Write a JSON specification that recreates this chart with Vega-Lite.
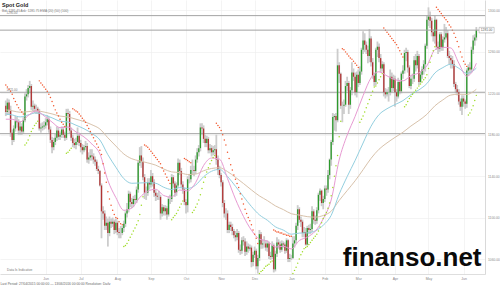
{
  "$schema": "https://vega.github.io/schema/vega-lite/v6.json",
  "width": 485,
  "height": 274,
  "autosize": "none",
  "padding": {"left": 0, "top": 0, "right": 15, "bottom": 11},
  "background": "white",
  "config": {"view": {"stroke": null}, "font": "Liberation Sans"},
  "title": {
    "text": "Spot Gold",
    "subtitle": "Bid: 1281.45    Ask: 1281.75          EMA (20) (50) (100)",
    "anchor": "start",
    "frame": "group",
    "offset": -12,
    "dx": 2,
    "fontSize": 5.5,
    "fontWeight": "bold",
    "color": "#222222",
    "subtitleFontSize": 3.2,
    "subtitleColor": "#777777",
    "subtitlePadding": 0.8
  },
  "datasets": {
    "c": [
      {"t":0,"o":1208,"h":1213,"l":1198,"c":1202,"s":1228},
      {"t":1,"o":1202,"h":1215,"l":1199,"c":1211,"s":1226},
      {"t":2,"o":1211,"h":1214,"l":1200,"c":1204,"s":1224},
      {"t":3,"o":1204,"h":1208,"l":1178,"c":1182,"s":1222},
      {"t":4,"o":1182,"h":1185,"l":1170,"c":1175,"s":1219},
      {"t":5,"o":1175,"h":1189,"l":1173,"c":1186,"s":1215},
      {"t":6,"o":1186,"h":1198,"l":1183,"c":1193,"s":1212},
      {"t":7,"o":1193,"h":1197,"l":1187,"c":1192,"s":1209},
      {"t":8,"o":1192,"h":1195,"l":1180,"c":1184,"s":1206},
      {"t":9,"o":1184,"h":1193,"l":1180,"c":1188,"s":1204},
      {"t":10,"o":1188,"h":1191,"l":1180,"c":1183,"s":1202},
      {"t":11,"o":1183,"h":1197,"l":1181,"c":1194,"s":1200},
      {"t":12,"o":1194,"h":1220,"l":1192,"c":1217,"s":1170},
      {"t":13,"o":1217,"h":1224,"l":1213,"c":1219,"s":1172},
      {"t":14,"o":1219,"h":1228,"l":1216,"c":1225,"s":1175},
      {"t":15,"o":1225,"h":1232,"l":1220,"c":1227,"s":1179},
      {"t":16,"o":1227,"h":1229,"l":1204,"c":1207,"s":1183},
      {"t":17,"o":1207,"h":1213,"l":1203,"c":1208,"s":1186},
      {"t":18,"o":1208,"h":1210,"l":1201,"c":1205,"s":1189},
      {"t":19,"o":1205,"h":1209,"l":1200,"c":1205,"s":1191},
      {"t":20,"o":1205,"h":1207,"l":1200,"c":1203,"s":1193},
      {"t":21,"o":1203,"h":1205,"l":1184,"c":1186,"s":1232},
      {"t":22,"o":1186,"h":1191,"l":1182,"c":1187,"s":1230},
      {"t":23,"o":1187,"h":1192,"l":1184,"c":1188,"s":1228},
      {"t":24,"o":1188,"h":1193,"l":1185,"c":1189,"s":1226},
      {"t":25,"o":1189,"h":1196,"l":1186,"c":1192,"s":1224},
      {"t":26,"o":1192,"h":1199,"l":1189,"c":1195,"s":1222},
      {"t":27,"o":1195,"h":1197,"l":1182,"c":1185,"s":1219},
      {"t":28,"o":1185,"h":1188,"l":1172,"c":1175,"s":1216},
      {"t":29,"o":1175,"h":1178,"l":1162,"c":1168,"s":1212},
      {"t":30,"o":1168,"h":1177,"l":1165,"c":1173,"s":1208},
      {"t":31,"o":1173,"h":1181,"l":1170,"c":1177,"s":1204},
      {"t":32,"o":1177,"h":1188,"l":1174,"c":1184,"s":1201},
      {"t":33,"o":1184,"h":1187,"l":1175,"c":1178,"s":1198},
      {"t":34,"o":1178,"h":1183,"l":1175,"c":1180,"s":1195},
      {"t":35,"o":1180,"h":1188,"l":1177,"c":1185,"s":1192},
      {"t":36,"o":1185,"h":1188,"l":1177,"c":1180,"s":1190},
      {"t":37,"o":1180,"h":1183,"l":1174,"c":1177,"s":1188},
      {"t":38,"o":1177,"h":1205,"l":1175,"c":1201,"s":1162},
      {"t":39,"o":1201,"h":1205,"l":1196,"c":1200,"s":1163},
      {"t":40,"o":1200,"h":1203,"l":1181,"c":1184,"s":1165},
      {"t":41,"o":1184,"h":1187,"l":1174,"c":1177,"s":1167},
      {"t":42,"o":1177,"h":1180,"l":1168,"c":1172,"s":1205},
      {"t":43,"o":1172,"h":1176,"l":1167,"c":1170,"s":1204},
      {"t":44,"o":1170,"h":1177,"l":1166,"c":1173,"s":1203},
      {"t":45,"o":1173,"h":1187,"l":1170,"c":1179,"s":1202},
      {"t":46,"o":1179,"h":1182,"l":1169,"c":1172,"s":1200},
      {"t":47,"o":1172,"h":1175,"l":1163,"c":1168,"s":1198},
      {"t":48,"o":1168,"h":1171,"l":1161,"c":1165,"s":1196},
      {"t":49,"o":1165,"h":1170,"l":1163,"c":1168,"s":1194},
      {"t":50,"o":1168,"h":1174,"l":1165,"c":1169,"s":1192},
      {"t":51,"o":1169,"h":1172,"l":1153,"c":1156,"s":1189},
      {"t":52,"o":1156,"h":1163,"l":1152,"c":1158,"s":1186},
      {"t":53,"o":1158,"h":1166,"l":1155,"c":1160,"s":1183},
      {"t":54,"o":1160,"h":1166,"l":1155,"c":1159,"s":1180},
      {"t":55,"o":1159,"h":1162,"l":1152,"c":1156,"s":1177},
      {"t":56,"o":1156,"h":1159,"l":1150,"c":1154,"s":1174},
      {"t":57,"o":1154,"h":1156,"l":1145,"c":1147,"s":1171},
      {"t":58,"o":1147,"h":1150,"l":1142,"c":1145,"s":1168},
      {"t":59,"o":1145,"h":1146,"l":1130,"c":1131,"s":1165},
      {"t":60,"o":1131,"h":1133,"l":1080,"c":1106,"s":1161},
      {"t":61,"o":1106,"h":1111,"l":1098,"c":1104,"s":1152},
      {"t":62,"o":1104,"h":1107,"l":1088,"c":1092,"s":1143},
      {"t":63,"o":1092,"h":1101,"l":1088,"c":1095,"s":1134},
      {"t":64,"o":1095,"h":1099,"l":1072,"c":1085,"s":1125},
      {"t":65,"o":1085,"h":1101,"l":1082,"c":1096,"s":1118},
      {"t":66,"o":1096,"h":1099,"l":1090,"c":1094,"s":1112},
      {"t":67,"o":1094,"h":1100,"l":1091,"c":1096,"s":1107},
      {"t":68,"o":1096,"h":1098,"l":1084,"c":1088,"s":1103},
      {"t":69,"o":1088,"h":1099,"l":1085,"c":1095,"s":1100},
      {"t":70,"o":1095,"h":1097,"l":1083,"c":1086,"s":1099},
      {"t":71,"o":1086,"h":1090,"l":1080,"c":1085,"s":1096},
      {"t":72,"o":1085,"h":1092,"l":1080,"c":1085,"s":1094},
      {"t":73,"o":1085,"h":1092,"l":1083,"c":1090,"s":1093},
      {"t":74,"o":1090,"h":1097,"l":1086,"c":1094,"s":1072},
      {"t":75,"o":1094,"h":1106,"l":1091,"c":1104,"s":1073},
      {"t":76,"o":1104,"h":1114,"l":1100,"c":1108,"s":1075},
      {"t":77,"o":1108,"h":1126,"l":1105,"c":1123,"s":1078},
      {"t":78,"o":1123,"h":1125,"l":1110,"c":1115,"s":1081},
      {"t":79,"o":1115,"h":1119,"l":1109,"c":1113,"s":1084},
      {"t":80,"o":1113,"h":1121,"l":1110,"c":1118,"s":1087},
      {"t":81,"o":1118,"h":1122,"l":1113,"c":1117,"s":1090},
      {"t":82,"o":1117,"h":1130,"l":1114,"c":1127,"s":1093},
      {"t":83,"o":1127,"h":1155,"l":1124,"c":1153,"s":1097},
      {"t":84,"o":1153,"h":1168,"l":1150,"c":1160,"s":1103},
      {"t":85,"o":1160,"h":1169,"l":1148,"c":1154,"s":1112},
      {"t":86,"o":1154,"h":1158,"l":1136,"c":1139,"s":1120},
      {"t":87,"o":1139,"h":1142,"l":1118,"c":1124,"s":1170},
      {"t":88,"o":1124,"h":1130,"l":1117,"c":1124,"s":1169},
      {"t":89,"o":1124,"h":1138,"l":1121,"c":1134,"s":1168},
      {"t":90,"o":1134,"h":1138,"l":1127,"c":1132,"s":1166},
      {"t":91,"o":1132,"h":1146,"l":1129,"c":1140,"s":1164},
      {"t":92,"o":1140,"h":1143,"l":1130,"c":1134,"s":1162},
      {"t":93,"o":1134,"h":1137,"l":1120,"c":1124,"s":1160},
      {"t":94,"o":1124,"h":1127,"l":1116,"c":1121,"s":1158},
      {"t":95,"o":1121,"h":1124,"l":1117,"c":1120,"s":1156},
      {"t":96,"o":1120,"h":1126,"l":1117,"c":1120,"s":1154},
      {"t":97,"o":1120,"h":1122,"l":1098,"c":1104,"s":1152},
      {"t":98,"o":1104,"h":1113,"l":1101,"c":1110,"s":1148},
      {"t":99,"o":1110,"h":1112,"l":1102,"c":1106,"s":1145},
      {"t":100,"o":1106,"h":1112,"l":1102,"c":1109,"s":1142},
      {"t":101,"o":1109,"h":1111,"l":1098,"c":1103,"s":1139},
      {"t":102,"o":1103,"h":1120,"l":1101,"c":1118,"s":1136},
      {"t":103,"o":1118,"h":1122,"l":1113,"c":1118,"s":1133},
      {"t":104,"o":1118,"h":1142,"l":1115,"c":1139,"s":1098},
      {"t":105,"o":1139,"h":1141,"l":1129,"c":1133,"s":1100},
      {"t":106,"o":1133,"h":1135,"l":1120,"c":1124,"s":1102},
      {"t":107,"o":1124,"h":1134,"l":1121,"c":1131,"s":1104},
      {"t":108,"o":1131,"h":1157,"l":1129,"c":1153,"s":1107},
      {"t":109,"o":1153,"h":1156,"l":1141,"c":1145,"s":1110},
      {"t":110,"o":1145,"h":1148,"l":1129,"c":1132,"s":1113},
      {"t":111,"o":1132,"h":1135,"l":1123,"c":1127,"s":1116},
      {"t":112,"o":1127,"h":1129,"l":1112,"c":1115,"s":1157},
      {"t":113,"o":1115,"h":1118,"l":1104,"c":1112,"s":1156},
      {"t":114,"o":1112,"h":1140,"l":1105,"c":1137,"s":1155},
      {"t":115,"o":1137,"h":1142,"l":1133,"c":1137,"s":1154},
      {"t":116,"o":1137,"h":1150,"l":1134,"c":1146,"s":1153},
      {"t":117,"o":1146,"h":1156,"l":1141,"c":1146,"s":1105},
      {"t":118,"o":1146,"h":1150,"l":1140,"c":1145,"s":1107},
      {"t":119,"o":1145,"h":1160,"l":1142,"c":1156,"s":1110},
      {"t":120,"o":1156,"h":1167,"l":1153,"c":1163,"s":1113},
      {"t":121,"o":1163,"h":1170,"l":1159,"c":1167,"s":1117},
      {"t":122,"o":1167,"h":1191,"l":1164,"c":1187,"s":1122},
      {"t":123,"o":1187,"h":1191,"l":1180,"c":1186,"s":1128},
      {"t":124,"o":1186,"h":1189,"l":1172,"c":1176,"s":1134},
      {"t":125,"o":1176,"h":1180,"l":1168,"c":1172,"s":1139},
      {"t":126,"o":1172,"h":1179,"l":1168,"c":1176,"s":1144},
      {"t":127,"o":1176,"h":1178,"l":1162,"c":1165,"s":1148},
      {"t":128,"o":1165,"h":1171,"l":1162,"c":1167,"s":1152},
      {"t":129,"o":1167,"h":1170,"l":1159,"c":1163,"s":1155},
      {"t":130,"o":1163,"h":1169,"l":1160,"c":1165,"s":1158},
      {"t":131,"o":1165,"h":1170,"l":1161,"c":1166,"s":1160},
      {"t":132,"o":1166,"h":1180,"l":1151,"c":1156,"s":1191},
      {"t":133,"o":1156,"h":1160,"l":1141,"c":1146,"s":1189},
      {"t":134,"o":1146,"h":1150,"l":1138,"c":1141,"s":1187},
      {"t":135,"o":1141,"h":1143,"l":1130,"c":1134,"s":1184},
      {"t":136,"o":1134,"h":1136,"l":1110,"c":1114,"s":1180},
      {"t":137,"o":1114,"h":1117,"l":1100,"c":1104,"s":1175},
      {"t":138,"o":1104,"h":1109,"l":1098,"c":1104,"s":1170},
      {"t":139,"o":1104,"h":1107,"l":1085,"c":1088,"s":1163},
      {"t":140,"o":1088,"h":1096,"l":1085,"c":1093,"s":1157},
      {"t":141,"o":1093,"h":1096,"l":1087,"c":1091,"s":1151},
      {"t":142,"o":1091,"h":1094,"l":1083,"c":1087,"s":1146},
      {"t":143,"o":1087,"h":1089,"l":1080,"c":1083,"s":1141},
      {"t":144,"o":1083,"h":1087,"l":1077,"c":1081,"s":1137},
      {"t":145,"o":1081,"h":1089,"l":1078,"c":1085,"s":1133},
      {"t":146,"o":1085,"h":1087,"l":1066,"c":1069,"s":1129},
      {"t":147,"o":1069,"h":1074,"l":1064,"c":1068,"s":1123},
      {"t":148,"o":1068,"h":1081,"l":1065,"c":1078,"s":1118},
      {"t":149,"o":1078,"h":1082,"l":1073,"c":1077,"s":1113},
      {"t":150,"o":1077,"h":1080,"l":1063,"c":1067,"s":1108},
      {"t":151,"o":1067,"h":1077,"l":1064,"c":1072,"s":1104},
      {"t":152,"o":1072,"h":1075,"l":1066,"c":1070,"s":1100},
      {"t":153,"o":1070,"h":1074,"l":1068,"c":1071,"s":1097},
      {"t":154,"o":1071,"h":1073,"l":1052,"c":1057,"s":1093},
      {"t":155,"o":1057,"h":1067,"l":1053,"c":1064,"s":1088},
      {"t":156,"o":1064,"h":1072,"l":1061,"c":1068,"s":1084},
      {"t":157,"o":1068,"h":1070,"l":1050,"c":1053,"s":1080},
      {"t":158,"o":1053,"h":1064,"l":1046,"c":1061,"s":1075},
      {"t":159,"o":1061,"h":1088,"l":1058,"c":1084,"s":1046},
      {"t":160,"o":1084,"h":1086,"l":1070,"c":1074,"s":1048},
      {"t":161,"o":1074,"h":1079,"l":1070,"c":1075,"s":1049},
      {"t":162,"o":1075,"h":1082,"l":1071,"c":1075,"s":1051},
      {"t":163,"o":1075,"h":1078,"l":1068,"c":1071,"s":1053},
      {"t":164,"o":1071,"h":1078,"l":1067,"c":1075,"s":1054},
      {"t":165,"o":1075,"h":1077,"l":1060,"c":1063,"s":1055},
      {"t":166,"o":1063,"h":1067,"l":1059,"c":1062,"s":1057},
      {"t":167,"o":1062,"h":1077,"l":1060,"c":1073,"s":1058},
      {"t":168,"o":1073,"h":1075,"l":1047,"c":1050,"s":1088},
      {"t":169,"o":1050,"h":1068,"l":1048,"c":1065,"s":1087},
      {"t":170,"o":1065,"h":1081,"l":1062,"c":1076,"s":1086},
      {"t":171,"o":1076,"h":1079,"l":1070,"c":1074,"s":1086},
      {"t":172,"o":1074,"h":1077,"l":1066,"c":1069,"s":1085},
      {"t":173,"o":1069,"h":1078,"l":1067,"c":1075,"s":1085},
      {"t":174,"o":1075,"h":1077,"l":1071,"c":1074,"s":1084},
      {"t":175,"o":1074,"h":1076,"l":1065,"c":1068,"s":1084},
      {"t":176,"o":1068,"h":1080,"l":1066,"c":1078,"s":1083},
      {"t":177,"o":1078,"h":1079,"l":1057,"c":1060,"s":1083},
      {"t":178,"o":1060,"h":1065,"l":1057,"c":1061,"s":1082},
      {"t":179,"o":1061,"h":1064,"l":1059,"c":1061,"s":1082},
      {"t":180,"o":1061,"h":1082,"l":1060,"c":1075,"s":1046},
      {"t":181,"o":1075,"h":1082,"l":1071,"c":1078,"s":1049},
      {"t":182,"o":1078,"h":1095,"l":1075,"c":1092,"s":1052},
      {"t":183,"o":1092,"h":1112,"l":1088,"c":1108,"s":1056},
      {"t":184,"o":1108,"h":1110,"l":1095,"c":1098,"s":1060},
      {"t":185,"o":1098,"h":1101,"l":1091,"c":1096,"s":1064},
      {"t":186,"o":1096,"h":1098,"l":1081,"c":1085,"s":1067},
      {"t":187,"o":1085,"h":1091,"l":1081,"c":1086,"s":1070},
      {"t":188,"o":1086,"h":1090,"l":1073,"c":1074,"s":1071},
      {"t":189,"o":1074,"h":1092,"l":1073,"c":1090,"s":1072},
      {"t":190,"o":1090,"h":1093,"l":1084,"c":1088,"s":1074},
      {"t":191,"o":1088,"h":1094,"l":1084,"c":1089,"s":1076},
      {"t":192,"o":1089,"h":1111,"l":1086,"c":1106,"s":1078},
      {"t":193,"o":1106,"h":1108,"l":1094,"c":1098,"s":1080},
      {"t":194,"o":1098,"h":1102,"l":1093,"c":1097,"s":1082},
      {"t":195,"o":1097,"h":1110,"l":1094,"c":1107,"s":1084},
      {"t":196,"o":1107,"h":1124,"l":1104,"c":1122,"s":1087},
      {"t":197,"o":1122,"h":1128,"l":1116,"c":1126,"s":1091},
      {"t":198,"o":1126,"h":1127,"l":1111,"c":1114,"s":1095},
      {"t":199,"o":1114,"h":1121,"l":1108,"c":1118,"s":1099},
      {"t":200,"o":1118,"h":1131,"l":1115,"c":1128,"s":1102},
      {"t":201,"o":1128,"h":1131,"l":1121,"c":1127,"s":1105},
      {"t":202,"o":1127,"h":1146,"l":1124,"c":1141,"s":1109},
      {"t":203,"o":1141,"h":1157,"l":1137,"c":1156,"s":1114},
      {"t":204,"o":1156,"h":1175,"l":1150,"c":1173,"s":1121},
      {"t":205,"o":1173,"h":1201,"l":1170,"c":1197,"s":1129},
      {"t":206,"o":1197,"h":1200,"l":1184,"c":1198,"s":1140},
      {"t":207,"o":1198,"h":1201,"l":1183,"c":1194,"s":1150},
      {"t":208,"o":1194,"h":1263,"l":1192,"c":1247,"s":1160},
      {"t":209,"o":1247,"h":1250,"l":1230,"c":1239,"s":1178},
      {"t":210,"o":1239,"h":1240,"l":1205,"c":1208,"s":1193},
      {"t":211,"o":1208,"h":1212,"l":1192,"c":1208,"s":1263},
      {"t":212,"o":1208,"h":1214,"l":1200,"c":1209,"s":1262},
      {"t":213,"o":1209,"h":1232,"l":1207,"c":1227,"s":1260},
      {"t":214,"o":1227,"h":1236,"l":1222,"c":1230,"s":1258},
      {"t":215,"o":1230,"h":1232,"l":1200,"c":1209,"s":1256},
      {"t":216,"o":1209,"h":1226,"l":1205,"c":1223,"s":1254},
      {"t":217,"o":1223,"h":1250,"l":1218,"c":1240,"s":1253},
      {"t":218,"o":1240,"h":1244,"l":1232,"c":1236,"s":1251},
      {"t":219,"o":1236,"h":1240,"l":1218,"c":1221,"s":1249},
      {"t":220,"o":1221,"h":1241,"l":1216,"c":1238,"s":1247},
      {"t":221,"o":1238,"h":1243,"l":1226,"c":1230,"s":1245},
      {"t":222,"o":1230,"h":1246,"l":1228,"c":1241,"s":1192},
      {"t":223,"o":1241,"h":1264,"l":1238,"c":1262,"s":1195},
      {"t":224,"o":1262,"h":1280,"l":1258,"c":1271,"s":1198},
      {"t":225,"o":1271,"h":1278,"l":1260,"c":1267,"s":1202},
      {"t":226,"o":1267,"h":1270,"l":1258,"c":1262,"s":1206},
      {"t":227,"o":1262,"h":1266,"l":1249,"c":1256,"s":1210},
      {"t":228,"o":1256,"h":1282,"l":1250,"c":1273,"s":1214},
      {"t":229,"o":1273,"h":1275,"l":1246,"c":1250,"s":1218},
      {"t":230,"o":1250,"h":1254,"l":1234,"c":1237,"s":1222},
      {"t":231,"o":1237,"h":1240,"l":1227,"c":1231,"s":1226},
      {"t":232,"o":1231,"h":1264,"l":1228,"c":1262,"s":1227},
      {"t":233,"o":1262,"h":1270,"l":1255,"c":1265,"s":1230},
      {"t":234,"o":1265,"h":1268,"l":1250,"c":1254,"s":1233},
      {"t":235,"o":1254,"h":1258,"l":1240,"c":1244,"s":1236},
      {"t":236,"o":1244,"h":1251,"l":1241,"c":1248,"s":1239},
      {"t":237,"o":1248,"h":1250,"l":1217,"c":1221,"s":1283},
      {"t":238,"o":1221,"h":1225,"l":1215,"c":1219,"s":1281},
      {"t":239,"o":1219,"h":1224,"l":1217,"c":1221,"s":1279},
      {"t":240,"o":1221,"h":1226,"l":1212,"c":1221,"s":1277},
      {"t":241,"o":1221,"h":1243,"l":1218,"c":1236,"s":1275},
      {"t":242,"o":1236,"h":1240,"l":1221,"c":1225,"s":1273},
      {"t":243,"o":1225,"h":1238,"l":1222,"c":1234,"s":1271},
      {"t":244,"o":1234,"h":1237,"l":1207,"c":1221,"s":1269},
      {"t":245,"o":1221,"h":1224,"l":1212,"c":1217,"s":1267},
      {"t":246,"o":1217,"h":1235,"l":1215,"c":1231,"s":1264},
      {"t":247,"o":1231,"h":1233,"l":1219,"c":1222,"s":1261},
      {"t":248,"o":1222,"h":1241,"l":1220,"c":1239,"s":1258},
      {"t":249,"o":1239,"h":1247,"l":1234,"c":1242,"s":1255},
      {"t":250,"o":1242,"h":1262,"l":1239,"c":1259,"s":1207},
      {"t":251,"o":1259,"h":1264,"l":1251,"c":1260,"s":1209},
      {"t":252,"o":1260,"h":1262,"l":1240,"c":1245,"s":1212},
      {"t":253,"o":1245,"h":1247,"l":1225,"c":1227,"s":1215},
      {"t":254,"o":1227,"h":1237,"l":1224,"c":1234,"s":1217},
      {"t":255,"o":1234,"h":1239,"l":1229,"c":1234,"s":1219},
      {"t":256,"o":1234,"h":1256,"l":1231,"c":1252,"s":1221},
      {"t":257,"o":1252,"h":1258,"l":1241,"c":1247,"s":1223},
      {"t":258,"o":1247,"h":1261,"l":1244,"c":1256,"s":1225},
      {"t":259,"o":1256,"h":1258,"l":1228,"c":1231,"s":1227},
      {"t":260,"o":1231,"h":1241,"l":1230,"c":1238,"s":1229},
      {"t":261,"o":1238,"h":1246,"l":1234,"c":1243,"s":1231},
      {"t":262,"o":1243,"h":1252,"l":1238,"c":1248,"s":1233},
      {"t":263,"o":1248,"h":1268,"l":1241,"c":1266,"s":1235},
      {"t":264,"o":1266,"h":1295,"l":1263,"c":1291,"s":1238},
      {"t":265,"o":1291,"h":1303,"l":1285,"c":1294,"s":1244},
      {"t":266,"o":1294,"h":1299,"l":1283,"c":1290,"s":1250},
      {"t":267,"o":1290,"h":1293,"l":1275,"c":1279,"s":1256},
      {"t":268,"o":1279,"h":1282,"l":1270,"c":1275,"s":1261},
      {"t":269,"o":1275,"h":1295,"l":1268,"c":1291,"s":1265},
      {"t":270,"o":1291,"h":1292,"l":1262,"c":1265,"s":1303},
      {"t":271,"o":1265,"h":1270,"l":1258,"c":1263,"s":1301},
      {"t":272,"o":1263,"h":1279,"l":1260,"c":1277,"s":1299},
      {"t":273,"o":1277,"h":1279,"l":1261,"c":1264,"s":1297},
      {"t":274,"o":1264,"h":1275,"l":1261,"c":1272,"s":1295},
      {"t":275,"o":1272,"h":1287,"l":1269,"c":1274,"s":1293},
      {"t":276,"o":1274,"h":1284,"l":1272,"c":1278,"s":1291},
      {"t":277,"o":1278,"h":1281,"l":1254,"c":1256,"s":1289},
      {"t":278,"o":1256,"h":1261,"l":1248,"c":1254,"s":1286},
      {"t":279,"o":1254,"h":1257,"l":1244,"c":1252,"s":1284},
      {"t":280,"o":1252,"h":1256,"l":1244,"c":1248,"s":1281},
      {"t":281,"o":1248,"h":1252,"l":1226,"c":1229,"s":1278},
      {"t":282,"o":1229,"h":1231,"l":1220,"c":1224,"s":1274},
      {"t":283,"o":1224,"h":1228,"l":1218,"c":1221,"s":1270},
      {"t":284,"o":1221,"h":1224,"l":1209,"c":1212,"s":1265},
      {"t":285,"o":1212,"h":1215,"l":1203,"c":1207,"s":1260},
      {"t":286,"o":1207,"h":1218,"l":1199,"c":1215,"s":1255},
      {"t":287,"o":1215,"h":1218,"l":1207,"c":1212,"s":1251},
      {"t":288,"o":1212,"h":1214,"l":1205,"c":1210,"s":1248},
      {"t":289,"o":1210,"h":1244,"l":1206,"c":1242,"s":1246},
      {"t":290,"o":1242,"h":1248,"l":1237,"c":1245,"s":1199},
      {"t":291,"o":1245,"h":1250,"l":1239,"c":1243,"s":1201},
      {"t":292,"o":1243,"h":1265,"l":1240,"c":1262,"s":1204},
      {"t":293,"o":1262,"h":1276,"l":1258,"c":1271,"s":1208},
      {"t":294,"o":1271,"h":1277,"l":1266,"c":1274,"s":1213},
      {"t":295,"o":1274,"h":1284,"l":1271,"c":1281,"s":1218}
    ],
    "ma": [
      {"t":0,"e20":1195.0,"e50":1200.0,"e100":1204.0},
      {"t":4,"e20":1194.9,"e50":1199.1,"e100":1203.1},
      {"t":9,"e20":1192.4,"e50":1197.2,"e100":1201.7},
      {"t":14,"e20":1198.4,"e50":1199.1,"e100":1202.3},
      {"t":19,"e20":1203.1,"e50":1201.1,"e100":1203.1},
      {"t":24,"e20":1198.2,"e50":1199.2,"e100":1201.9},
      {"t":29,"e20":1192.2,"e50":1196.3,"e100":1200.1},
      {"t":34,"e20":1186.8,"e50":1193.1,"e100":1198.0},
      {"t":39,"e20":1187.5,"e50":1192.3,"e100":1197.1},
      {"t":44,"e20":1182.7,"e50":1189.2,"e100":1195.0},
      {"t":49,"e20":1177.9,"e50":1185.8,"e100":1192.7},
      {"t":54,"e20":1171.0,"e50":1181.2,"e100":1189.6},
      {"t":59,"e20":1161.4,"e50":1174.9,"e100":1185.5},
      {"t":64,"e20":1135.8,"e50":1160.7,"e100":1177.0},
      {"t":69,"e20":1119.3,"e50":1148.6,"e100":1169.1},
      {"t":74,"e20":1107.0,"e50":1137.6,"e100":1161.4},
      {"t":79,"e20":1109.2,"e50":1133.1,"e100":1156.8},
      {"t":84,"e20":1119.4,"e50":1133.4,"e100":1154.7},
      {"t":89,"e20":1125.5,"e50":1133.7,"e100":1152.8},
      {"t":94,"e20":1127.3,"e50":1133.1,"e100":1150.6},
      {"t":99,"e20":1121.3,"e50":1129.3,"e100":1146.9},
      {"t":104,"e20":1119.8,"e50":1127.1,"e100":1144.1},
      {"t":109,"e20":1126.6,"e50":1128.9,"e100":1143.4},
      {"t":114,"e20":1125.8,"e50":1128.1,"e100":1141.6},
      {"t":119,"e20":1133.7,"e50":1131.3,"e100":1142.0},
      {"t":124,"e20":1150.3,"e50":1139.4,"e100":1145.2},
      {"t":129,"e20":1157.5,"e50":1144.7,"e100":1147.4},
      {"t":134,"e20":1156.4,"e50":1146.5,"e100":1148.1},
      {"t":139,"e20":1137.7,"e50":1139.7,"e100":1144.4},
      {"t":144,"e20":1117.8,"e50":1130.2,"e100":1138.9},
      {"t":149,"e20":1101.1,"e50":1120.3,"e100":1132.9},
      {"t":154,"e20":1087.8,"e50":1110.7,"e100":1126.7},
      {"t":159,"e20":1079.2,"e50":1102.6,"e100":1120.9},
      {"t":164,"e20":1077.2,"e50":1097.4,"e100":1116.4},
      {"t":169,"e20":1071.5,"e50":1091.1,"e100":1111.3},
      {"t":174,"e20":1072.3,"e50":1087.9,"e100":1107.7},
      {"t":179,"e20":1069.7,"e50":1083.9,"e100":1103.7},
      {"t":184,"e20":1077.8,"e50":1085.0,"e100":1102.4},
      {"t":189,"e20":1081.1,"e50":1085.2,"e100":1100.9},
      {"t":194,"e20":1086.8,"e50":1087.1,"e100":1100.4},
      {"t":199,"e20":1098.8,"e50":1092.6,"e100":1102.0},
      {"t":204,"e20":1117.0,"e50":1102.1,"e100":1106.1},
      {"t":209,"e20":1155.6,"e50":1122.5,"e100":1116.5},
      {"t":214,"e20":1179.5,"e50":1139.5,"e100":1126.0},
      {"t":219,"e20":1197.7,"e50":1155.1,"e100":1135.5},
      {"t":224,"e20":1217.7,"e50":1172.0,"e100":1146.2},
      {"t":229,"e20":1235.0,"e50":1188.2,"e100":1157.2},
      {"t":234,"e20":1240.8,"e50":1199.4,"e100":1166.0},
      {"t":239,"e20":1236.8,"e50":1205.1,"e100":1172.1},
      {"t":244,"e20":1233.1,"e50":1209.1,"e100":1177.4},
      {"t":249,"e20":1232.0,"e50":1212.9,"e100":1182.4},
      {"t":254,"e20":1237.1,"e50":1218.7,"e100":1188.4},
      {"t":259,"e20":1239.8,"e50":1223.3,"e100":1193.7},
      {"t":264,"e20":1246.6,"e50":1229.4,"e100":1199.7},
      {"t":269,"e20":1262.0,"e50":1239.6,"e100":1207.9},
      {"t":274,"e20":1264.4,"e50":1244.8,"e100":1213.6},
      {"t":279,"e20":1263.8,"e50":1248.1,"e100":1218.3},
      {"t":284,"e20":1249.2,"e50":1244.2,"e100":1219.1},
      {"t":289,"e20":1236.6,"e50":1239.3,"e100":1218.9},
      {"t":294,"e20":1245.4,"e50":1242.9,"e100":1222.7},
      {"t":295,"e20":1249.0,"e50":1244.4,"e100":1223.9}
    ],
    "lv": [
      {"p":1295,"lab":"1295.00"},
      {"p":1221,"lab":"1221.00"},
      {"p":1181,"lab":""}
    ]
  },
  "layer": [
    {
      "data": {"name": "c"},
      "mark": {"type": "rule", "color": "#cccccc", "strokeWidth": 1.8},
      "encoding": {
        "x": {"field": "t", "type": "quantitative",
          "scale": {"domain": [-0.5, 297.3], "nice": false, "zero": false},
          "axis": {
            "values": [25,47,70,91,113,135,156,179,200,221,244,265,287],
            "labelExpr": "['Jun','Jul','Aug','Sep','Oct','Nov','Dec','Jan','Feb','Mar','Apr','May','Jun'][indexof([25,47,70,91,113,135,156,179,200,221,244,265,287], datum.value)]",
            "labelFontSize": 3.5, "labelColor": "#888888", "ticks": false, "labelPadding": 2,
            "domainColor": "#d5d5d5", "domainWidth": 0.8,
            "grid": true, "gridColor": "#ececec", "gridWidth": 0.6,
            "title": "Last Period: 27/04/2015 00:00:00 — 13/06/2016 00:00:00     Resolution: Daily",
            "titleFontSize": 3.3, "titleFontWeight": "normal", "titleColor": "#666666",
            "titleAnchor": "start", "titlePadding": 1.5
          }},
        "y": {"field": "l", "type": "quantitative",
          "scale": {"domain": [1045.5, 1310.1], "nice": false, "zero": false},
          "axis": {
            "orient": "right",
            "values": [1060,1080,1100,1120,1140,1160,1180,1200,1220,1240,1260,1280,1300],
            "format": ".2f", "labelFontSize": 3.3, "labelColor": "#8a8a8a", "ticks": false,
            "labelPadding": 2.5, "domainColor": "#cfcfcf", "domainWidth": 0.8,
            "grid": true, "gridColor": "#ececec", "gridWidth": 0.6, "title": null
          }},
        "y2": {"field": "h"}
      }
    },
    {
      "data": {"name": "lv"},
      "mark": {"type": "rule", "color": "#a3a3a3", "strokeWidth": 1},
      "encoding": {
        "y": {"field": "p", "type": "quantitative", "scale": {"domain": [1045.5, 1310.1], "nice": false, "zero": false}}
      }
    },
    {
      "data": {"name": "lv"},
      "mark": {"type": "text", "align": "left", "baseline": "bottom", "dy": -0.6, "fontSize": 3.0, "color": "#777777"},
      "encoding": {
        "x": {"datum": 0.5, "type": "quantitative", "scale": {"domain": [-0.5, 297.3], "nice": false, "zero": false}},
        "y": {"field": "p", "type": "quantitative", "scale": {"domain": [1045.5, 1310.1], "nice": false, "zero": false}},
        "text": {"field": "lab"}
      }
    },
    {
      "data": {"name": "c"},
      "mark": {"type": "bar", "size": 1.3},
      "encoding": {
        "x": {"field": "t", "type": "quantitative", "scale": {"domain": [-0.5, 297.3], "nice": false, "zero": false}},
        "y": {"field": "o", "type": "quantitative", "scale": {"domain": [1045.5, 1310.1], "nice": false, "zero": false}},
        "y2": {"field": "c"},
        "fill": {"condition": {"test": "datum.c >= datum.o", "value": "#2c9a2c"}, "value": "#b23434"}
      }
    },
    {
      "data": {"name": "ma"},
      "mark": {"type": "line", "color": "#d8c2ab", "strokeWidth": 1, "interpolate": "monotone"},
      "encoding": {
        "x": {"field": "t", "type": "quantitative", "scale": {"domain": [-0.5, 297.3], "nice": false, "zero": false}},
        "y": {"field": "e100", "type": "quantitative", "scale": {"domain": [1045.5, 1310.1], "nice": false, "zero": false}}
      }
    },
    {
      "data": {"name": "ma"},
      "mark": {"type": "line", "color": "#93cfdf", "strokeWidth": 1, "interpolate": "monotone"},
      "encoding": {
        "x": {"field": "t", "type": "quantitative", "scale": {"domain": [-0.5, 297.3], "nice": false, "zero": false}},
        "y": {"field": "e50", "type": "quantitative", "scale": {"domain": [1045.5, 1310.1], "nice": false, "zero": false}}
      }
    },
    {
      "data": {"name": "ma"},
      "mark": {"type": "line", "color": "#e79ad2", "strokeWidth": 1, "interpolate": "monotone"},
      "encoding": {
        "x": {"field": "t", "type": "quantitative", "scale": {"domain": [-0.5, 297.3], "nice": false, "zero": false}},
        "y": {"field": "e20", "type": "quantitative", "scale": {"domain": [1045.5, 1310.1], "nice": false, "zero": false}}
      }
    },
    {
      "data": {"name": "c"},
      "mark": {"type": "circle", "size": 2.2, "opacity": 1},
      "encoding": {
        "x": {"field": "t", "type": "quantitative", "scale": {"domain": [-0.5, 297.3], "nice": false, "zero": false}},
        "y": {"field": "s", "type": "quantitative", "scale": {"domain": [1045.5, 1310.1], "nice": false, "zero": false}},
        "color": {"condition": {"test": "datum.s > datum.c", "value": "#f2562c"}, "value": "#9fdc26"}
      }
    },
    {
      "data": {"name": "c"},
      "transform": [{"filter": "datum.t == 295"}],
      "mark": {"type": "rule", "color": "#a3a3a3", "strokeWidth": 1},
      "encoding": {
        "y": {"field": "c", "type": "quantitative", "scale": {"domain": [1045.5, 1310.1], "nice": false, "zero": false}}
      }
    },
    {
      "data": {"name": "c"},
      "transform": [{"filter": "datum.t == 295"}],
      "mark": {"type": "point", "shape": "M0.56,-0.56H3.56V0.56H0.56Z", "size": 100, "filled": true, "fill": "white", "stroke": "#999999", "strokeWidth": 0.5, "opacity": 1},
      "encoding": {
        "x": {"field": "t", "type": "quantitative", "scale": {"domain": [-0.5, 297.3], "nice": false, "zero": false}},
        "y": {"field": "c", "type": "quantitative", "scale": {"domain": [1045.5, 1310.1], "nice": false, "zero": false}}
      }
    },
    {
      "data": {"name": "c"},
      "transform": [{"filter": "datum.t == 295"}],
      "mark": {"type": "text", "align": "left", "baseline": "middle", "dx": 4.5, "fontSize": 3.2, "color": "#555555"},
      "encoding": {
        "x": {"field": "t", "type": "quantitative", "scale": {"domain": [-0.5, 297.3], "nice": false, "zero": false}},
        "y": {"field": "c", "type": "quantitative", "scale": {"domain": [1045.5, 1310.1], "nice": false, "zero": false}},
        "text": {"field": "c", "format": ".2f"}
      }
    },
    {
      "data": {"values": [{}]},
      "mark": {"type": "text", "align": "left", "baseline": "bottom", "fontSize": 3.3, "color": "#777777"},
      "encoding": {
        "x": {"datum": 0.8, "type": "quantitative", "scale": {"domain": [-0.5, 297.3], "nice": false, "zero": false}},
        "y": {"datum": 1047.3, "type": "quantitative", "scale": {"domain": [1045.5, 1310.1], "nice": false, "zero": false}},
        "text": {"value": "Data Is Indicative"}
      }
    },
    {
      "data": {"values": [{}]},
      "mark": {"type": "text", "align": "left", "baseline": "alphabetic", "fontSize": 26, "fontWeight": "bold", "font": "Liberation Sans", "color": "#0a0a0a"},
      "encoding": {
        "x": {"datum": 211.3, "type": "quantitative", "scale": {"domain": [-0.5, 297.3], "nice": false, "zero": false}},
        "y": {"datum": 1053.7, "type": "quantitative", "scale": {"domain": [1045.5, 1310.1], "nice": false, "zero": false}},
        "text": {"value": "finanso.net"}
      }
    }
  ]
}
